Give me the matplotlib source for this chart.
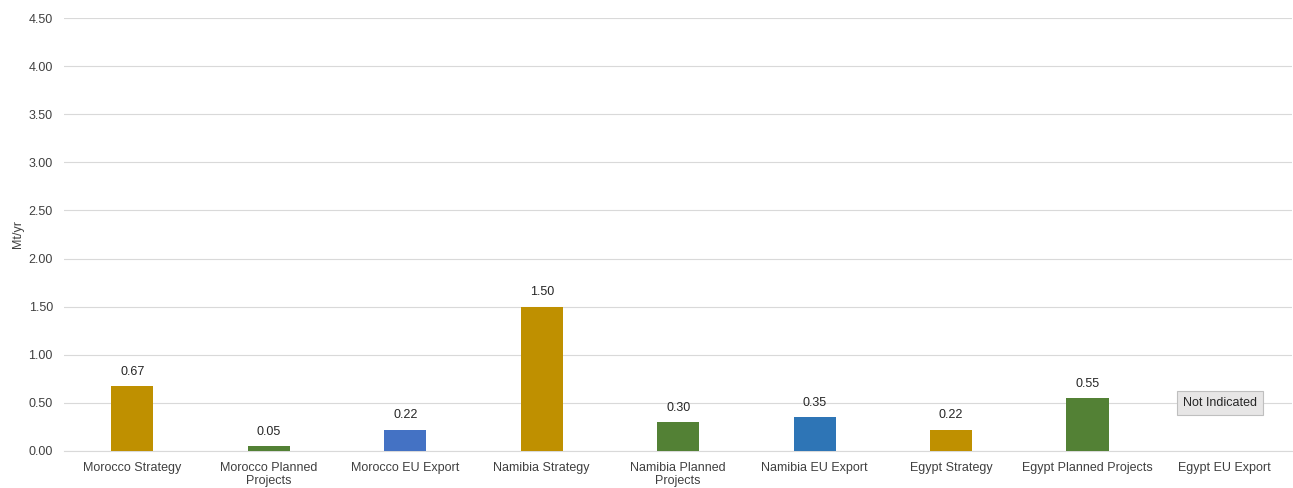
import numpy as np
import matplotlib.pyplot as plt

plt.rcParams['font.family'] = ['Liberation Sans', 'DejaVu Sans']

categories = ["Morocco Strategy", "Morocco Planned\nProjects", "Morocco EU Export",
              "Namibia Strategy", "Namibia Planned\nProjects", "Namibia EU Export",
              "Egypt Strategy", "Egypt Planned Projects", "Egypt EU Export"]
values = [0.67, 0.05, 0.22, 1.50, 0.30, 0.35, 0.22, 0.55, np.nan]
colors = ["#BF9000", "#538135", "#4472C4", "#BF9000", "#538135", "#2E75B6",
          "#BF9000", "#538135", "#2E75B6"]
yticks = np.arange(0, 4.51, 0.5)

fig = plt.figure(figsize=(12.93, 4.88), dpi=100)
ax = fig.add_axes([0.0495, 0.076, 0.95, 0.887])

x = np.arange(len(categories))
ax.bar(x, np.nan_to_num(values), width=0.31, color=colors, zorder=3)

for xi, v in zip(x, values):
    if np.isnan(v):
        ax.text(xi - 0.03, 0.5, "Not Indicated", ha="center", va="center", fontsize=9,
                color="#262626", zorder=4,
                bbox=dict(boxstyle="square,pad=0.5", fc="#E7E6E6", ec="#BFBFBF", lw=0.8))
    else:
        ax.annotate(f"{v:.2f}", (xi, v), xytext=(0, 6), textcoords="offset points",
                    ha="center", va="bottom", fontsize=9, color="#262626")

ax.set_xlim(-0.5, len(categories) - 0.5)
ax.set_ylim(0, 4.5)
ax.set_yticks(yticks)
ax.set_yticklabels([f"{t:.2f}" for t in yticks], fontsize=9, color="#404040")
ax.set_xticks(x)
ax.set_xticklabels(categories, fontsize=9, color="#404040", linespacing=1.1)
ax.tick_params(length=0, pad=8)
ax.set_ylabel("Mt/yr", fontsize=9, color="#404040", labelpad=3)

ax.grid(axis="y", color="#D9D9D9", lw=0.8, zorder=0)
for s in ["top", "right", "left"]:
    ax.spines[s].set_visible(False)
ax.spines["bottom"].set_color("#D9D9D9")

fig.savefig("out.png", dpi=100)
